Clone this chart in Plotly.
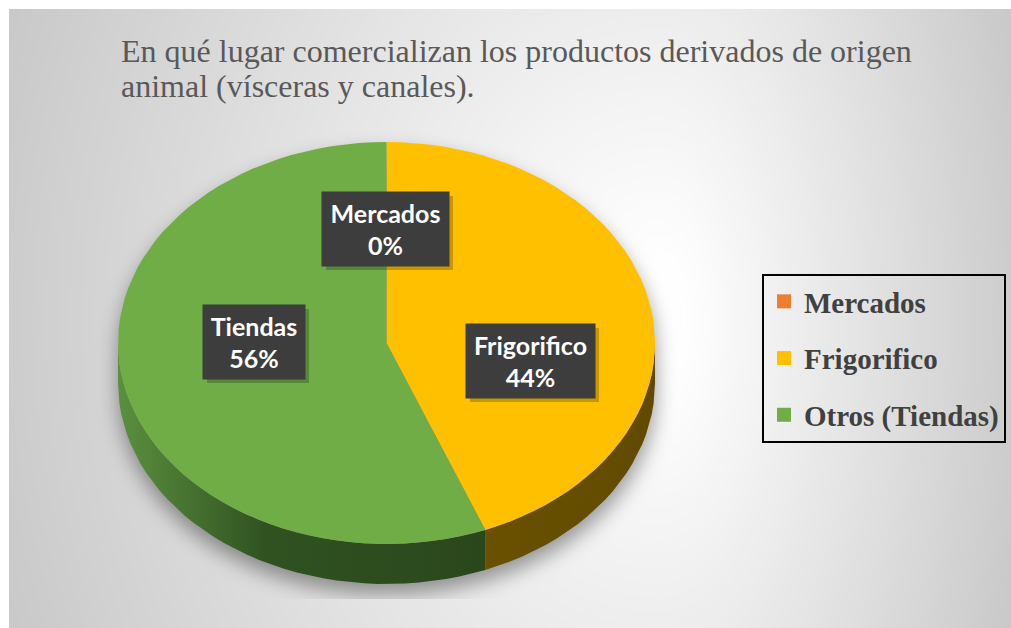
import base64
import struct
import zlib

import numpy as np
import plotly.graph_objects as go

# ---------------- data ----------------
categories = ["Mercados", "Frigorifico", "Otros (Tiendas)"]
label_names = ["Mercados", "Frigorifico", "Tiendas"]
percent_values = [0, 44, 56]
slice_colors = ["#ED7D31", "#FFC000", "#70AD47"]
title_lines = [
    "En qué lugar comercializan los productos derivados de origen",
    "animal (vísceras y canales).",
]

# ---------------- layout constants ----------------
W, H = 1011, 628
CX, CY, RX, RY, DEPTH = 386.5, 343.0, 268.5, 201.0, 40.0
side_styles = [
    [[0, "#7a3d14"], [1, "#7a3d14"]],
    [[0, "#6a5100"], [1, "#614a00"]],
    [[0, "#5b903f"], [0.4, "#305221"], [1, "#2a471c"]],
]
# label boxes (center x, center y, width, height) in pixel space
label_boxes = [(385.5, 229, 127, 74), (530.5, 361, 129, 74), (254, 342, 102, 74)]


def arc(a0, a1, dy=0.0, n=120):
    t = np.radians(np.linspace(a0, a1, max(2, int(n * (a1 - a0) / 360) + 2)))
    return CX + RX * np.sin(t), CY - RY * np.cos(t) + dy


# ---------------- background image (gradient + soft shadow) ----------------
yy, xx = np.mgrid[0:H, 0:W].astype(float)
gx = np.where(xx >= 660, (xx - 660) / 620, (660 - xx) / 1150)
gy = (yy - 320) / 1400
d = np.sqrt(gx ** 2 + gy ** 2)
bg = 255 - 95 * np.clip(d - 0.04, 0, 1)

sy = yy - 10
sil = (((xx - CX) / RX) ** 2 + ((sy - CY) / RY) ** 2 <= 1) | \
      (((xx - CX) / RX) ** 2 + ((sy - CY - DEPTH) / RY) ** 2 <= 1) | \
      ((np.abs(xx - CX) <= RX) & (sy >= CY) & (sy <= CY + DEPTH))
sh = sil.astype(float)


def box_blur(a, r, axis):
    k = 2 * r + 1
    pad = [(0, 0), (0, 0)]
    pad[axis] = (r + 1, r)
    p = np.pad(a, pad, mode="edge")
    c = np.cumsum(p, axis=axis)
    if axis == 1:
        return (c[:, k:] - c[:, :-k]) / k
    return (c[k:, :] - c[:-k, :]) / k


for _ in range(3):
    sh = box_blur(sh, 9, 1)
    sh = box_blur(sh, 9, 0)
sh[(yy > 598) | (xx < 100)] = 0
bg = bg * (1 - 0.38 * sh)
bg[(xx < 9) | (yy < 9)] = 255
rgb = np.repeat(np.clip(bg, 0, 255).astype(np.uint8)[:, :, None], 3, axis=2)


def png_data_uri(img):
    h, w, _ = img.shape
    raw = b"".join(b"\x00" + img[i].tobytes() for i in range(h))

    def chunk(tag, data):
        c = struct.pack(">I", len(data)) + tag + data
        return c + struct.pack(">I", zlib.crc32(tag + data) & 0xFFFFFFFF)

    png = (b"\x89PNG\r\n\x1a\n"
           + chunk(b"IHDR", struct.pack(">IIBBBBB", w, h, 8, 2, 0, 0, 0))
           + chunk(b"IDAT", zlib.compress(raw, 9))
           + chunk(b"IEND", b""))
    return "data:image/png;base64," + base64.b64encode(png).decode()


# ---------------- figure ----------------
fig = go.Figure()

total = float(sum(percent_values))
angles = []
acc = 0.0
for v in percent_values:
    a0 = acc / total * 360
    acc += v
    angles.append((a0, acc / total * 360))

# side walls (front half only)
for (a0, a1), cscale in zip(angles, side_styles):
    s0, s1 = max(a0, 90), min(a1, 270)
    if s1 <= s0:
        continue
    tx, ty = arc(s0, s1)
    bx, by = arc(s0, s1, DEPTH)
    fig.add_trace(go.Scatter(
        x=np.concatenate([tx, bx[::-1], tx[:1]]),
        y=np.concatenate([ty, by[::-1], ty[:1]]),
        mode="lines", line=dict(width=0), fill="toself",
        fillgradient=dict(type="horizontal", colorscale=cscale),
        showlegend=False, hoverinfo="skip"))

# top faces
for (a0, a1), col in zip(angles, slice_colors):
    if a1 <= a0:
        continue
    ax, ay = arc(a0, a1)
    fig.add_trace(go.Scatter(
        x=np.concatenate([[CX], ax, [CX]]),
        y=np.concatenate([[CY], ay, [CY]]),
        mode="lines", line=dict(width=0), fill="toself", fillcolor=col,
        showlegend=False, hoverinfo="skip"))

# legend entries
for cat, col in zip(categories, slice_colors):
    fig.add_trace(go.Scatter(
        x=[None], y=[None], mode="markers", name=f"<b>{cat}</b>", legendgroup=cat,
        marker=dict(symbol="square", size=14, color=col, line=dict(width=0))))

# data labels
annotations = []
shapes = []
for name, pct, (bx, by, bw, bh) in zip(label_names, percent_values, label_boxes):
    shapes.append(dict(type="rect", xref="x", yref="y",
                       x0=bx - bw / 2 + 4, x1=bx + bw / 2 + 4,
                       y0=by - bh / 2 + 4, y1=by + bh / 2 + 4,
                       fillcolor="rgba(0,0,0,0.22)", line=dict(width=0), layer="above"))
    annotations.append(dict(
        x=bx, y=by, xref="x", yref="y", showarrow=False,
        text=f"<b>{name}</b><br><b>{pct}%</b>",
        width=bw, height=bh, borderpad=0, bgcolor="#3d3d3d",
        font=dict(family="Lato", size=25, color="white"), align="center"))

# title
for i, line in enumerate(title_lines):
    annotations.append(dict(
        x=119, y=51 + 35 * i, xref="x", yref="y", xanchor="left", yanchor="middle",
        showarrow=False, text=line,
        font=dict(family="Liberation Serif", size=32, color="#595959")))

fig.update_layout(
    width=W, height=H, margin=dict(l=0, r=0, t=0, b=0),
    paper_bgcolor="white", plot_bgcolor="rgba(0,0,0,0)",
    xaxis=dict(range=[0, W], visible=False, fixedrange=True),
    yaxis=dict(range=[H, 0], visible=False, fixedrange=True),
    images=[dict(source=png_data_uri(rgb), xref="paper", yref="paper", x=0, y=1,
                 sizex=1, sizey=1, xanchor="left", yanchor="top",
                 sizing="stretch", layer="below")],
    annotations=annotations, shapes=shapes,
    showlegend=True,
    legend=dict(x=762 / W, y=1 - 274 / H, xanchor="left", yanchor="top",
                bordercolor="#000000", borderwidth=2, bgcolor="rgba(0,0,0,0)",
                font=dict(family="Liberation Serif", size=29, color="#404040"),
                tracegroupgap=16, itemsizing="trace", traceorder="grouped"),
)

fig.write_html("out.html", config={"displayModeBar": False},
               post_script="document.body.style.margin='0';")
